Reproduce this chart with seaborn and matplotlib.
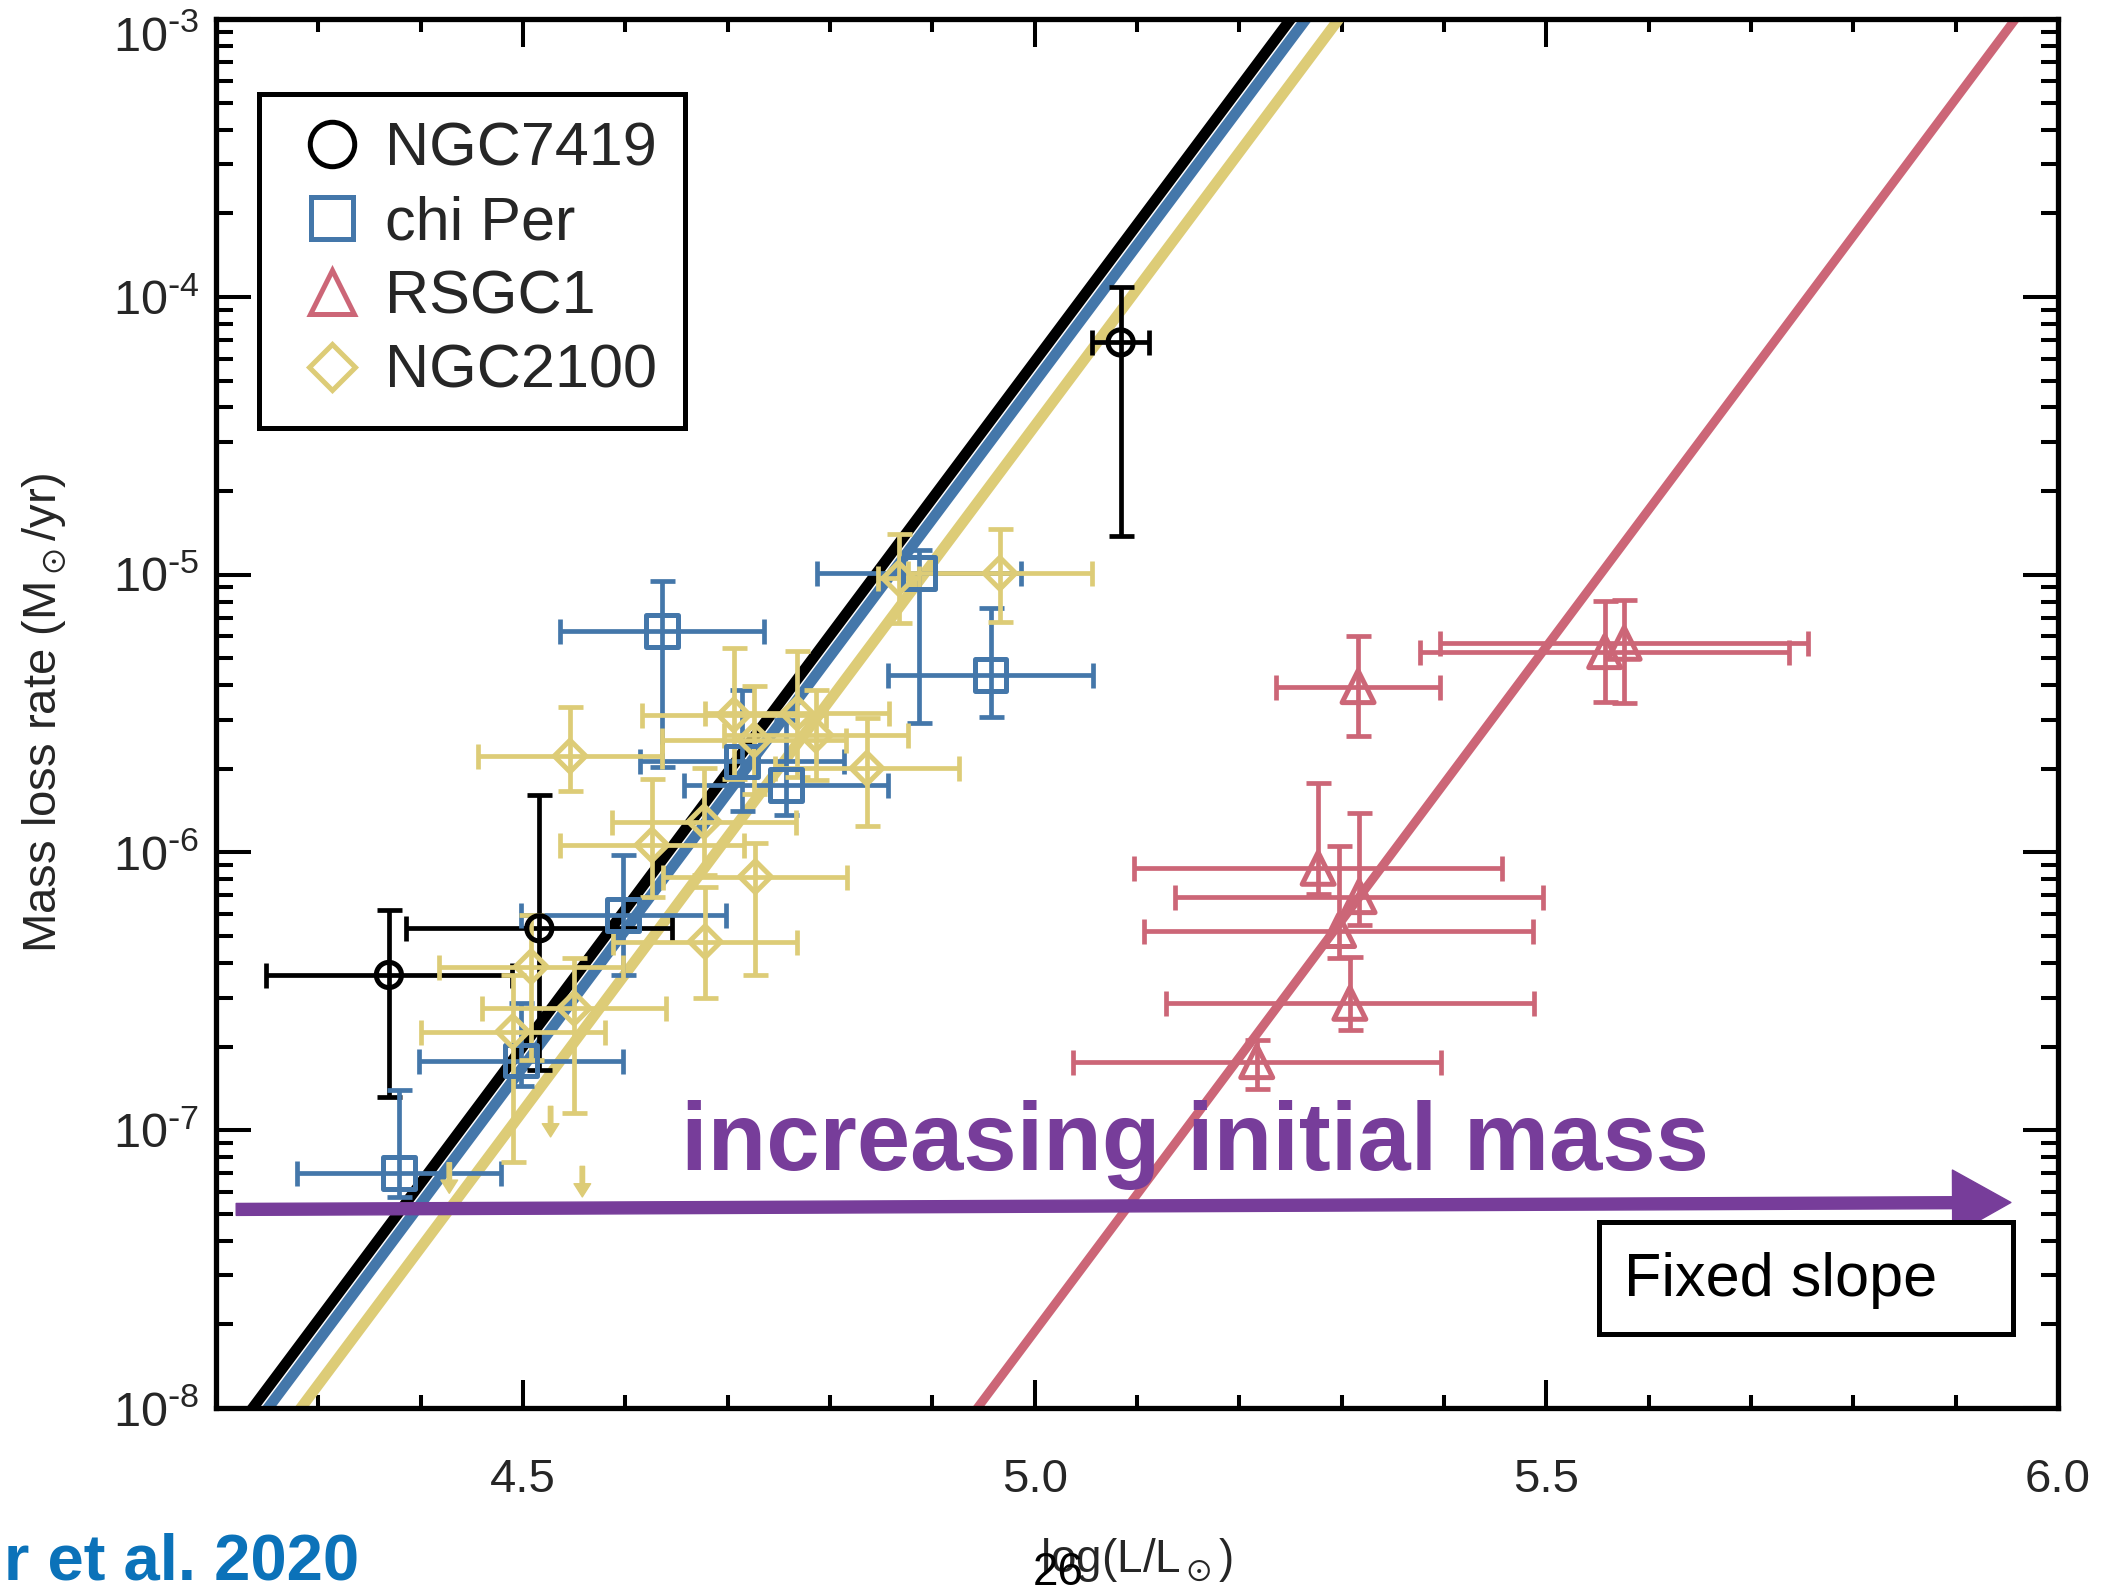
import numpy as np
import pandas as pd
import matplotlib
matplotlib.use("Agg")
import matplotlib.pyplot as plt
import matplotlib.transforms as mtransforms
import seaborn as sns
from matplotlib.lines import Line2D
from matplotlib.patches import Rectangle
from matplotlib.ticker import FixedLocator, FuncFormatter, LogLocator, NullFormatter, MultipleLocator

# ---------------- data (log L/Lsun, log Mdot) ----------------
n7419_logL = [4.369, 4.516, 5.084]
n7419_logL_err = [0.12, 0.13, 0.028]
n7419_logM = [-6.441, -6.273, -4.164]
n7419_logM_hi = [-6.207, -5.793, -3.965]
n7419_logM_lo = [-6.879, -6.783, -4.862]

chiper_logL = [4.379, 4.498, 4.598, 4.636, 4.714, 4.757, 4.887, 4.957]
chiper_logL_err = [0.10, 0.10, 0.10, 0.10, 0.10, 0.10, 0.10, 0.10]
chiper_logM = [-7.155, -6.749, -6.225, -5.202, -5.672, -5.757, -4.995, -5.361]
chiper_logM_hi = [-6.854, -6.543, -6.009, -5.022, -5.415, -5.522, -4.911, -5.121]
chiper_logM_lo = [-7.239, -6.841, -6.440, -5.692, -5.850, -5.865, -5.535, -5.511]

rsgc1_logL = [5.316, 5.557, 5.576, 5.277, 5.317, 5.297, 5.308, 5.217]
rsgc1_logL_err = [0.08, 0.18, 0.18, 0.18, 0.18, 0.19, 0.18, 0.18]
rsgc1_logM = [-5.403, -5.277, -5.247, -6.057, -6.159, -6.281, -6.543, -6.753]
rsgc1_logM_hi = [-5.221, -5.094, -5.092, -5.750, -5.859, -5.975, -6.375, -6.676]
rsgc1_logM_lo = [-5.581, -5.457, -5.461, -6.150, -6.262, -6.381, -6.640, -6.850]

n2100_logL = [4.546, 4.706, 4.768, 4.726, 4.786, 4.867, 4.966, 4.836,
              4.677, 4.626, 4.727, 4.678, 4.508, 4.490, 4.550]
n2100_logL_err = [0.09, 0.09, 0.09, 0.09, 0.09, 0.02, 0.09, 0.09,
                  0.09, 0.09, 0.09, 0.09, 0.09, 0.09, 0.09]
n2100_logM = [-5.653, -5.505, -5.499, -5.595, -5.577, -5.013, -4.995, -5.697,
              -5.889, -5.973, -6.087, -6.321, -6.411, -6.645, -6.561]
n2100_logM_hi = [-5.475, -5.263, -5.273, -5.400, -5.415, -4.852, -4.836, -5.517,
                 -5.696, -5.735, -5.967, -6.123, -6.225, -6.441, -6.381]
n2100_logM_lo = [-5.777, -5.735, -5.730, -5.790, -5.739, -5.173, -5.169, -5.905,
                 -6.080, -6.159, -6.441, -6.525, -6.747, -7.113, -6.939]

# NGC2100 upper limits
n2100_ul_logL = [4.527, 4.558, 4.428]
n2100_ul_logM = [-6.914, -7.130, -7.117]

# fixed-slope fits: log Mdot = a + b log L
fit_slope = 4.93
fit_names = ["NGC7419", "chi Per", "NGC2100", "RSGC1"]
fit_intercepts = [-28.883, -28.957, -29.115, -32.374]

x_ticks = [4.5, 5.0, 5.5, 6.0]
x_tick_labels = ["4.5", "5.0", "5.5", "6.0"]
y_tick_exps = [-8, -7, -6, -5, -4, -3]

# ---------------- style ----------------
sns.set_theme(style="ticks")
plt.rcParams["font.family"] = ["Liberation Sans", "DejaVu Sans"]
plt.rcParams["mathtext.default"] = "regular"
plt.rcParams["axes.unicode_minus"] = False

C_BLACK = "#000000"
C_BLUE = "#4477AA"
C_RED = "#CC6677"
C_YELLOW = "#DDCC77"
C_PURPLE = "#773D9A"

fig = plt.figure(figsize=(21.13, 15.91), dpi=100)
fig.patch.set_facecolor("white")
ax = fig.add_axes([0.1022, 0.115, 0.8718, 0.873])
ax.set_facecolor("white")

# fit lines
fit_colors = {"NGC7419": C_BLACK, "chi Per": C_BLUE, "NGC2100": C_YELLOW, "RSGC1": C_RED}
xl = np.array([4.15, 6.05])
for name, a in zip(fit_names, fit_intercepts):
    ax.plot(xl, 10 ** (a + fit_slope * xl), color=fit_colors[name],
            lw=7.8 if name != "RSGC1" else 6.5, solid_capstyle="butt", zorder=2)

groups = [
    ("NGC7419", n7419_logL, n7419_logL_err, n7419_logM, n7419_logM_hi, n7419_logM_lo, C_BLACK, "o", 330),
    ("chi Per", chiper_logL, chiper_logL_err, chiper_logM, chiper_logM_hi, chiper_logM_lo, C_BLUE, "s", 520),
    ("RSGC1", rsgc1_logL, rsgc1_logL_err, rsgc1_logM, rsgc1_logM_hi, rsgc1_logM_lo, C_RED, "^", 530),
    ("NGC2100", n2100_logL, n2100_logL_err, n2100_logM, n2100_logM_hi, n2100_logM_lo, C_YELLOW, "D", 260),
]

for name, lx, lxe, lm, lmh, lml, col, mk, sz in groups:
    lx = np.asarray(lx); lm = np.asarray(lm)
    y = 10 ** lm
    yerr = [y - 10 ** np.asarray(lml), 10 ** np.asarray(lmh) - y]
    ax.errorbar(lx, y, xerr=lxe, yerr=yerr, fmt="none", ecolor=col,
                elinewidth=3.4, capsize=9, capthick=3.4, zorder=3)
    df = pd.DataFrame({"logL": lx, "Mdot": y})
    sns.scatterplot(data=df, x="logL", y="Mdot", marker=mk, s=sz, color=col,
                    facecolor="none", edgecolor=col, linewidth=3.6, ax=ax,
                    zorder=4, legend=False)

# upper limits (arrows)
for lx, lm in zip(n2100_ul_logL, n2100_ul_logM):
    ax.annotate("", xy=(lx, 10 ** (lm - 0.11)), xytext=(lx, 10 ** lm),
                arrowprops=dict(width=3.2, headwidth=12, headlength=9.5,
                                color=C_YELLOW, shrink=0), zorder=4)

# axes
ax.set_yscale("log")
ax.set_xlim(4.2, 6.0)
ax.set_ylim(1e-8, 1e-3)
ax.xaxis.set_major_locator(FixedLocator(x_ticks))
ax.set_xticklabels(x_tick_labels)
ax.xaxis.set_minor_locator(MultipleLocator(0.1))
ax.yaxis.set_major_locator(FixedLocator([10.0 ** e for e in y_tick_exps]))
ax.yaxis.set_major_formatter(FuncFormatter(
    lambda v, p: r"$10^{\text{-}%d}$" % abs(int(round(np.log10(v))))))
ax.yaxis.set_minor_locator(LogLocator(base=10, subs=np.arange(2, 10), numticks=50))
ax.yaxis.set_minor_formatter(NullFormatter())

for s in ax.spines.values():
    s.set_visible(True)
    s.set_color("black")
    s.set_linewidth(3.8)

ax.tick_params(which="both", direction="in", top=True, right=True, color="black")
ax.tick_params(axis="x", which="major", length=20, width=2.9, labelsize=34, pad=36)
ax.tick_params(axis="x", which="minor", length=9.5, width=2.9)
ax.tick_params(axis="y", which="major", length=25, width=2.9, labelsize=35, pad=12)
ax.tick_params(axis="y", which="minor", length=12, width=2.9)

ax.set_xlabel(r"log(L/L$_\odot$)", fontsize=33)
ax.xaxis.set_label_coords(0.5, -0.092)
ax.set_ylabel(r"Mass loss rate (M$_\odot$/yr)", fontsize=34)
ax.yaxis.set_label_coords(-0.080, 0.5)

# legend
handles = [
    Line2D([], [], ls="none", marker="o", ms=32, mfc="none", mec=C_BLACK, mew=3.6),
    Line2D([], [], ls="none", marker="s", ms=30, mfc="none", mec=C_BLUE, mew=3.6),
    Line2D([], [], ls="none", marker="^", ms=32, mfc="none", mec=C_RED, mew=3.6),
    Line2D([], [], ls="none", marker="D", ms=23, mfc="none", mec=C_YELLOW, mew=3.6),
]
leg = ax.legend(handles, ["NGC7419", "chi Per", "RSGC1", "NGC2100"],
                loc="upper left", bbox_to_anchor=(0.0233, 0.946), borderaxespad=0,
                fontsize=44, frameon=True, fancybox=False, framealpha=1,
                edgecolor="black", handlelength=1.5, handletextpad=0.12,
                borderpad=0.45, labelspacing=0.28)
leg.get_frame().set_linewidth(3.6)
leg.set_zorder(6)

# annotation: increasing initial mass
ax.annotate("", xy=(0.9744, 0.148), xytext=(0.011, 0.143),
            xycoords="axes fraction", textcoords="axes fraction",
            arrowprops=dict(width=8.6, headwidth=47, headlength=42,
                            color=C_PURPLE, shrink=0), zorder=5)
ax.text(0.2522, 0.1714, "increasing initial mass", transform=ax.transAxes,
        fontsize=69, fontweight="bold", color=C_PURPLE, ha="left", va="baseline", zorder=5)

# Fixed slope box
ax.add_patch(Rectangle((0.751, 0.0533), 0.2246, 0.0807, transform=ax.transAxes,
                       facecolor="white", edgecolor="black", lw=3.6, zorder=5))
ax.text(0.7644, 0.0806, "Fixed slope", transform=ax.transAxes, fontsize=44,
        ha="left", va="baseline", color="black", zorder=6)

# citation & slide number
fig.text(0.002, 0.007, "r et al. 2020", fontsize=47, fontweight="bold",
         color="#0B72B9", ha="left", va="baseline")
fig.text(1058 / 2113, 1 - 1585 / 1591, "26", fontsize=33, color="black",
         ha="center", va="baseline")

# nudge the top y tick label down slightly, as in the reference
fig.canvas.draw()
for tick in ax.yaxis.get_major_ticks():
    if abs(np.log10(tick.get_loc()) + 3) < 1e-6:
        lab = tick.label1
        lab.set_transform(lab.get_transform() +
                          mtransforms.ScaledTranslation(0, -0.14, fig.dpi_scale_trans))

fig.savefig("out.png", dpi=100, facecolor="white")
